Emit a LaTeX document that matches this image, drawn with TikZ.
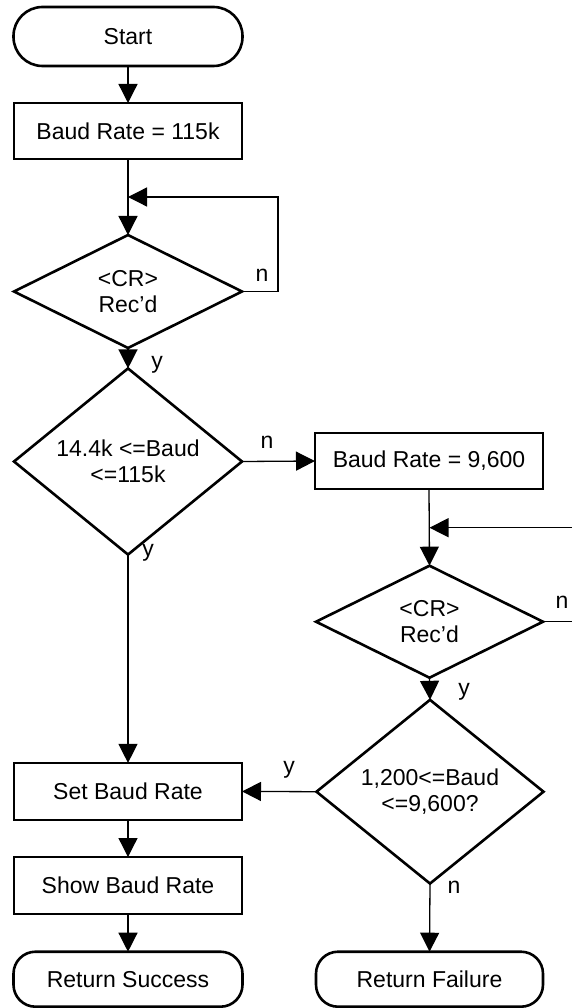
\documentclass[tikz,border=0pt]{standalone}
\usepackage{fontspec}
\setmainfont{Liberation Sans}
\usetikzlibrary{shapes.geometric,arrows.meta}
\tikzset{
  txt/.style={font=\fontsize{23}{26}\selectfont},
  boxnode/.style={txt,draw=black,line width=2.6pt,rectangle,inner sep=0pt,outer sep=0pt,minimum width=228pt,minimum height=57pt,align=center},
  termnode/.style={boxnode,rounded corners=22pt,minimum height=55pt},
  decnode/.style={txt,draw=black,line width=2.6pt,diamond,inner sep=0pt,outer sep=0pt,minimum width=228pt,align=center},
  conn/.style={line width=1.3pt,-{Triangle[length=19pt,width=19pt]}},
  plain/.style={line width=1.3pt},
  lbl/.style={txt,inner sep=0pt}
}
\begin{document}
\begin{tikzpicture}[x=1pt,y=-1pt]
\useasboundingbox (0,0) rectangle (572,1008);
% nodes
\node[termnode,rounded corners=29pt,minimum width=229pt,minimum height=59pt] (start) at (128,36.5) {Start};
\node[boxnode,minimum height=56pt] (b115) at (128,131) {Baud Rate = 115k};
\node[decnode,minimum height=113pt] (d1) at (128,291.5) {\textless CR\textgreater\\Rec’d};
\node[decnode,minimum height=151pt] (d2) at (128,461.5) {14.4k \textless=Baud\\\textless=115k};
\node[boxnode,minimum height=56pt] (b96) at (429,461) {Baud Rate = 9,600};
\node[decnode,minimum height=112pt,minimum width=227pt] (d3) at (429.5,621.7) {\textless CR\textgreater\\Rec’d};
\node[decnode,minimum height=150pt,minimum width=227pt] (d4) at (430,791.7) {1,200\textless=Baud\\\textless=9,600?};
\node[boxnode] (set) at (128,791.4) {Set Baud Rate};
\node[boxnode] (show) at (128,885.5) {Show Baud Rate};
\node[termnode,minimum width=229pt] (rs) at (128,979.2) {Return Success};
\node[termnode,minimum width=227pt] (rf) at (429.5,979.2) {Return Failure};
% helper coordinates
\coordinate (m1) at (128,197);
\coordinate (k1) at (278,291.5);
\coordinate (m2) at (429.5,527.7);
\coordinate (r2) at (572,527.7);
\coordinate (r3) at (572,621.7);
% connectors
\draw[conn] (start) -- (b115);
\draw[conn] (b115) -- (d1.north);
\draw[conn] (d1.east) -- (k1) |- (m1);
\draw[conn] (d1.south) -- (d2.north);
\draw[conn] (d2.east) -- (b96.west);
\draw[conn] (d2.south) -- (set.north);
\draw[conn] (b96.south) -- (d3.north);
\draw[conn] (r2) -- (m2);
\draw[plain] (d3.east) -- (r3);
\draw[conn] (d3.south) -- (d4.north);
\draw[conn] (d4.west) -- (set.east);
\draw[conn] (d4.south) -- (rf.north);
\draw[conn] (set) -- (show);
\draw[conn] (show) -- (rs);
% labels
\node[lbl] (n1) at (262,275) {n};
\node[lbl] (y1) at (157,365) {y};
\node[lbl] (n2) at (267,442) {n};
\node[lbl] (y2) at (148,553) {y};
\node[lbl] (n3) at (562,602) {n};
\node[lbl] (y3) at (464,692) {y};
\node[lbl] (y4) at (289,770) {y};
\node[lbl] (n4) at (454,887.7) {n};
\end{tikzpicture}
\end{document}
